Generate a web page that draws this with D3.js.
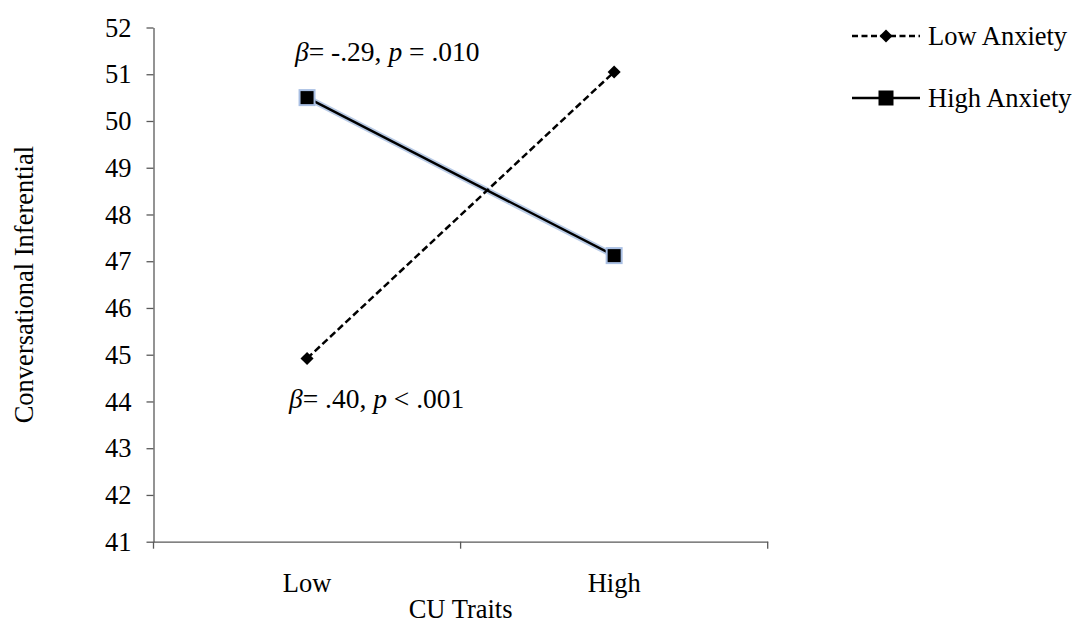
<!DOCTYPE html>
<html><head><meta charset="utf-8">
<script src="https://cdn.jsdelivr.net/npm/d3@7"></script>
<style>
body{margin:0;background:#fff;}
text{font-family:"Liberation Serif","Times New Roman",serif;fill:#000;}
</style></head>
<body><svg id="c" width="1077" height="624"></svg>
<script>
const categories = ["Low", "High"];
const lowAnxiety = [44.92, 51.05];
const highAnxiety = [50.5, 47.12];
const yTicks = [41,42,43,44,45,46,47,48,49,50,51,52];
const seriesNames = ["Low Anxiety", "High Anxiety"];
const xTitle = "CU Traits";
const yTitle = "Conversational Inferential";

const svg = d3.select("#c");
const FS = 26.5;
const mLeft = 153.5, mRight = 767.7, mTop = 27.5, mBottom = 541.7;
const x = d3.scaleBand().domain(categories).range([mLeft, mRight]);
const y = d3.scaleLinear().domain([41, 52]).range([mBottom, mTop]);
const axisColor = "#595959";

// y axis
const ya = svg.append("g").attr("transform", `translate(${mLeft},0)`)
  .call(d3.axisLeft(y).tickValues(yTicks).tickSize(7).tickSizeOuter(0).tickPadding(15).tickFormat(d3.format("d")));
ya.select(".domain").attr("stroke", axisColor).attr("stroke-width", 1.3);
ya.selectAll(".tick line").attr("stroke", axisColor).attr("stroke-width", 1.3);
ya.selectAll(".tick text").attr("font-size", FS).attr("font-family", "Liberation Serif").attr("fill", "#000").attr("dy", "0.33em");

// x axis
const xa = svg.append("g").attr("transform", `translate(0,${mBottom})`)
  .call(d3.axisBottom(x).tickSize(0).tickPadding(31));
xa.select(".domain").attr("stroke", axisColor).attr("stroke-width", 1.3);
xa.selectAll(".tick text").attr("font-size", FS).attr("font-family", "Liberation Serif").attr("fill", "#000");
// band boundary ticks
const bounds = categories.map(c => x(c)).concat([x(categories[categories.length-1]) + x.bandwidth()]);
xa.selectAll(".btick").data(bounds).enter().append("line")
  .attr("x1", d => d).attr("x2", d => d).attr("y1", 0).attr("y2", 7)
  .attr("stroke", axisColor).attr("stroke-width", 1.3);

// titles
svg.append("text").attr("x", (mLeft+mRight)/2).attr("y", 618).attr("text-anchor", "middle").attr("font-size", FS).text(xTitle);
svg.append("text").attr("transform", `translate(33,${(mTop+mBottom)/2}) rotate(-90)`).attr("text-anchor", "middle").attr("font-size", FS).text(yTitle);

const cx = c => x(c) + x.bandwidth()/2;
const line = d3.line().x((d,i) => cx(categories[i])).y(d => y(d));

// High anxiety: halo then line
svg.append("path").datum(highAnxiety).attr("d", line).attr("fill", "none").attr("stroke", "#b9cbe6").attr("stroke-width", 6);
svg.append("path").datum(highAnxiety).attr("d", line).attr("fill", "none").attr("stroke", "#000").attr("stroke-width", 2.4);
svg.selectAll(".sq").data(highAnxiety).enter().append("rect")
  .attr("x", (d,i) => cx(categories[i]) - 7.5).attr("y", d => y(d) - 7.5)
  .attr("width", 15).attr("height", 15).attr("fill", "#000").attr("stroke", "#a9bfe3").attr("stroke-width", 2);

// Low anxiety dashed
svg.append("path").datum(lowAnxiety).attr("d", line).attr("fill", "none").attr("stroke", "#000").attr("stroke-width", 2.5).attr("stroke-dasharray", "7,3.5");
const diamond = d3.symbol().type(d3.symbolSquare).size(85);
svg.selectAll(".dm").data(lowAnxiety).enter().append("path")
  .attr("d", diamond).attr("transform", (d,i) => `translate(${cx(categories[i])},${y(d)}) rotate(45)`).attr("fill", "#000");

// annotations
const AFS = 27.5;
const a1 = svg.append("text").attr("x", 295).attr("y", 61).attr("font-size", AFS);
a1.append("tspan").attr("font-style", "italic").text("β");
a1.append("tspan").text("= -.29, ");
a1.append("tspan").attr("font-style", "italic").text("p");
a1.append("tspan").text(" = .010");
const a2 = svg.append("text").attr("x", 289).attr("y", 408).attr("font-size", AFS);
a2.append("tspan").attr("font-style", "italic").text("β");
a2.append("tspan").text("= .40, ");
a2.append("tspan").attr("font-style", "italic").text("p");
a2.append("tspan").text(" < .001");

// legend
const lg = svg.append("g");
const ly = [36, 98];
lg.append("line").attr("x1", 852).attr("x2", 920).attr("y1", ly[0]).attr("y2", ly[0]).attr("stroke", "#000").attr("stroke-width", 2.4).attr("stroke-dasharray", "6,3.5");
lg.append("path").attr("d", diamond).attr("transform", `translate(886,${ly[0]}) rotate(45)`).attr("fill", "#000");
lg.append("line").attr("x1", 852).attr("x2", 920).attr("y1", ly[1]).attr("y2", ly[1]).attr("stroke", "#000").attr("stroke-width", 2.4);
lg.append("rect").attr("x", 886-7.5).attr("y", ly[1]-7.5).attr("width", 15).attr("height", 15).attr("fill", "#000");
lg.selectAll(".lt").data(seriesNames).enter().append("text")
  .attr("x", 928).attr("y", (d,i) => ly[i]).attr("dy", "0.33em").attr("font-size", FS).text(d => d);
</script></body></html>
